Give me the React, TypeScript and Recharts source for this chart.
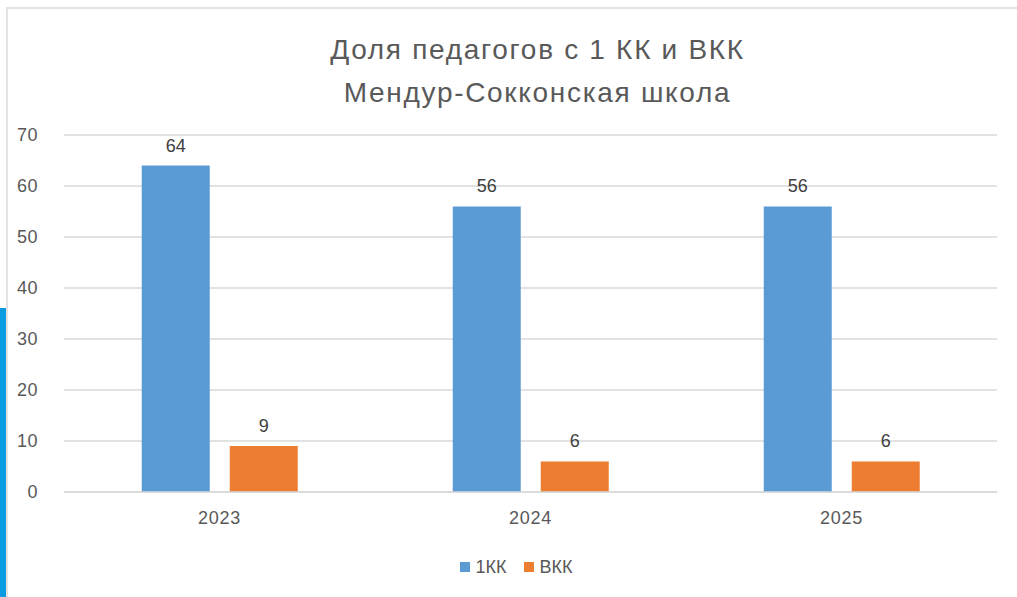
import React from 'react';
import { BarChart, Bar, XAxis, YAxis, CartesianGrid, Legend, LabelList } from 'recharts';

const years = ['2023', '2024', '2025'];
const firstCategory = [64, 56, 56];
const highestCategory = [9, 6, 6];
const yTicks = [0, 10, 20, 30, 40, 50, 60, 70];

const data = years.map((year, i) => ({
    year,
    kk1: firstCategory[i],
    vkk: highestCategory[i],
}));

const FONT = '"Liberation Sans", Arial, sans-serif';
const TEXT = '#595959';

const renderLegend = (props: any) => {
    const { payload } = props;
    return (
        <div style={{ display: 'flex', justifyContent: 'center', paddingLeft: 21, gap: 17, fontFamily: FONT }}>
            {payload.map((entry: any) => (
                <div key={entry.value} style={{ display: 'flex', alignItems: 'center', gap: 6 }}>
                    <span style={{ width: 10, height: 10, background: entry.color, display: 'inline-block' }} />
                    <span style={{ color: TEXT, fontSize: 18, lineHeight: '24px' }}>{entry.value}</span>
                </div>
            ))}
        </div>
    );
};

const App = () => {
    return (
        <div style={{ position: 'fixed', left: 0, top: 0, width: 1017, height: 597, background: '#fff', fontFamily: FONT, overflow: 'hidden' }}>
            <div style={{ position: 'absolute', left: 0, top: 0 }}>
                <BarChart
                    width={1017}
                    height={597}
                    data={data}
                    margin={{ top: 135, right: 20, left: 14, bottom: 17 }}
                    barCategoryGap="25%"
                    barGap={20}
                >
                    <CartesianGrid vertical={false} stroke="#d9d9d9" strokeWidth={1.5} />
                    <XAxis
                        dataKey="year"
                        axisLine={{ stroke: '#d9d9d9', strokeWidth: 1.5 }}
                        tickLine={false}
                        tick={{ fill: TEXT, fontSize: 18, fontFamily: FONT, letterSpacing: 0.8 }}
                        tickMargin={13}
                        height={63}
                    />
                    <YAxis
                        domain={[0, 70]}
                        ticks={yTicks}
                        axisLine={false}
                        tickLine={false}
                        tick={{ fill: TEXT, fontSize: 18, fontFamily: FONT, letterSpacing: 0.5 }}
                        tickMargin={20}
                        width={50}
                    />
                    <Legend verticalAlign="bottom" height={25} content={renderLegend} />
                    <Bar dataKey="kk1" name="1КК" fill="#5b9bd5" isAnimationActive={false}>
                        <LabelList dataKey="kk1" position="top" offset={14} fill="#404040" fontSize={18} fontFamily={FONT} />
                    </Bar>
                    <Bar dataKey="vkk" name="ВКК" fill="#ed7d31" isAnimationActive={false}>
                        <LabelList dataKey="vkk" position="top" offset={14} fill="#404040" fontSize={18} fontFamily={FONT} />
                    </Bar>
                </BarChart>
            </div>

            <div style={{ position: 'absolute', left: 0, top: 28, width: 1075, textAlign: 'center', color: TEXT, fontSize: 28, letterSpacing: 1.7, lineHeight: '43px' }}>
                Доля педагогов с 1 КК и ВКК<br />Мендур-Сокконская школа
            </div>

            {/* frame of the screenshot */}
            <div style={{ position: 'absolute', left: 6, top: 7, right: 0, height: 2, background: '#e3e3e3', zIndex: 5 }} />
            <div style={{ position: 'absolute', left: 6, top: 7, bottom: 0, width: 2, background: '#e3e3e3', zIndex: 5 }} />
            <div style={{ position: 'absolute', left: 0, top: 308, bottom: 0, width: 6, background: '#0b9be0', zIndex: 5 }} />
        </div>
    );
};

export default App;
